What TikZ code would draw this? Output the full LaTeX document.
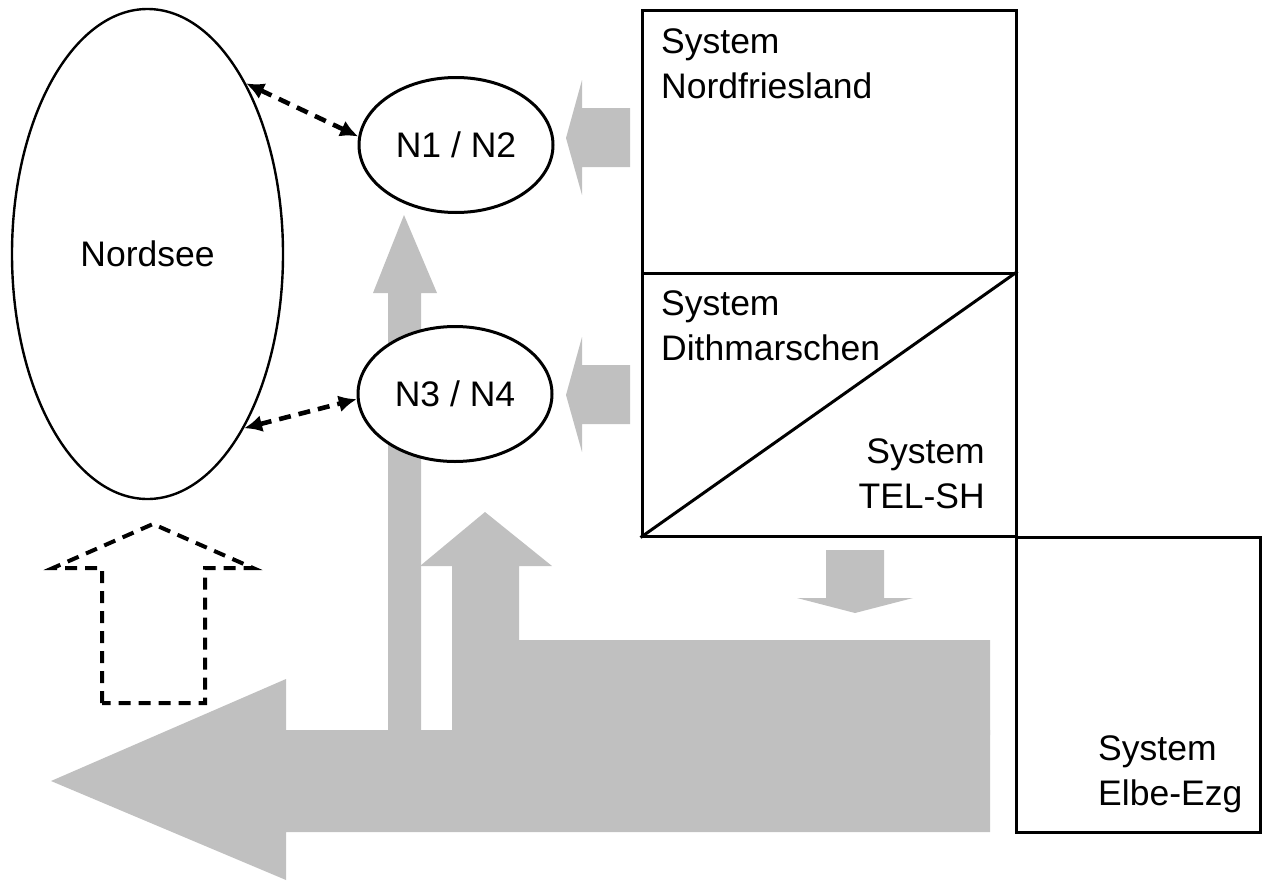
\documentclass[tikz,border=0pt]{standalone}
\usepackage{fontspec}
\setmainfont{Liberation Sans}
\usetikzlibrary{arrows.meta,shapes.geometric}
\definecolor{flow}{RGB}{192,192,192}
\tikzset{
  lbl/.style={inner sep=0pt, align=left, font=\fontsize{35.5}{45}\selectfont},
  sysbox/.style={draw, line width=3pt, rectangle, inner sep=0pt},
  waters/.style={draw, ellipse, fill=white, inner sep=0pt, font=\fontsize{35.5}{42}\selectfont},
  flowshape/.style={fill=flow},
  exch/.style={line width=4.6pt, dash pattern=on 12pt off 8pt,
    {Latex[length=18pt,width=17pt]}-{Latex[length=18pt,width=17pt]}},
  ghost/.style={line width=4pt, dash pattern=on 12pt off 8pt, line join=miter}
}
\begin{document}
\begin{tikzpicture}[x=1pt,y=-1pt]
\useasboundingbox (0,0) rectangle (1263,881);

% gray flow arrows (behind everything)
\fill[flowshape] (566,138) -- (582,80) -- (582,108) -- (630,108) -- (630,167) -- (582,167) -- (582,195) -- cycle;
\fill[flowshape] (566,395) -- (582,337) -- (582,365) -- (630,365) -- (630,424) -- (582,424) -- (582,452) -- cycle;
\fill[flowshape] (404,215) -- (437,293) -- (421,293) -- (421,735) -- (388,735) -- (388,293) -- (373,293) -- cycle;
\fill[flowshape] (452,735) -- (452,566) -- (420,566) -- (485,512) -- (552,566) -- (519,566) -- (519,640) -- (990,640) -- (990,735) -- cycle;
\fill[flowshape] (51,781) -- (286,679) -- (286,730) -- (990,730) -- (990,832) -- (286,832) -- (286,880) -- cycle;
\fill[flowshape] (826,550) -- (884,550) -- (884,598) -- (913,598) -- (855,613) -- (797,598) -- (826,598) -- cycle;

% dashed outline arrow
\draw[ghost] (102,703) -- (102,568) -- (53,568) -- (153,524) -- (253,568) -- (205,568) -- (205,703) -- cycle;

% water bodies
\node[waters, line width=2.4pt, minimum width=271pt, minimum height=490pt] (nord) at (147.5,254) {Nordsee};
\node[waters, line width=3pt, minimum width=194pt, minimum height=135pt] (n12) at (456,145) {N1 / N2};
\node[waters, line width=3pt, minimum width=194pt, minimum height=135pt] (n34) at (455,394) {N3 / N4};

% systems
\node[sysbox, minimum width=374pt, minimum height=263pt] (nf) at (829,141.5) {};
\node[sysbox, minimum width=374pt, minimum height=263pt] (dm) at (829,404.5) {};
\node[sysbox, minimum width=244pt, minimum height=295pt] (elbe) at (1138,684.5) {};
\draw[line width=3pt] (dm.south west) -- (dm.north east);

\node[lbl, anchor=base west] (tnf) at (661,98) {System\\Nordfriesland};
\node[lbl, anchor=base west] (tdm) at (661,360) {System\\Dithmarschen};
\node[lbl, align=right, anchor=base east] (ttel) at (985,508) {System\\TEL-SH};
\node[lbl, anchor=base west] (telbe) at (1098,805) {System\\Elbe-Ezg};

% exchange connectors
\draw[exch] (nord.60) -- (n12.175);
\draw[exch] (nord.-61) -- (n34.183);
\end{tikzpicture}
\end{document}
